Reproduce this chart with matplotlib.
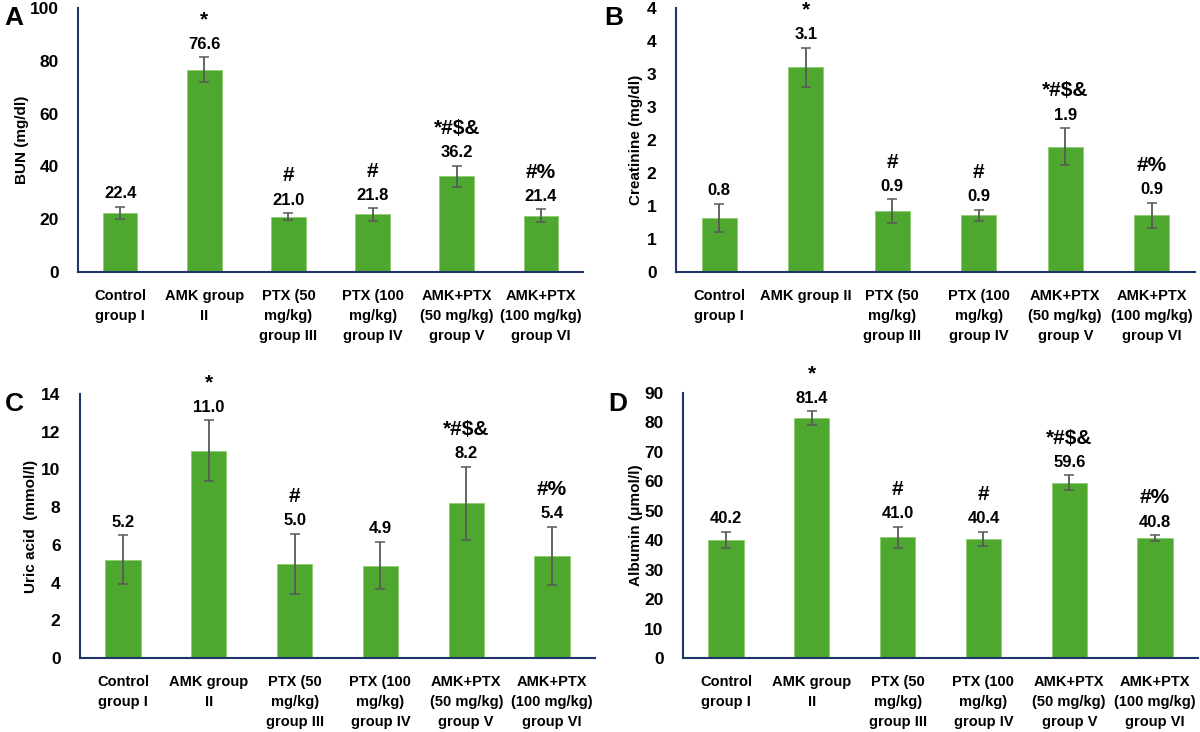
import numpy as np
import pandas as pd
import matplotlib.pyplot as plt
from matplotlib.ticker import FuncFormatter

groups = ['Control\ngroup I', 'AMK group\nII', 'PTX (50\nmg/kg)\ngroup III',
          'PTX (100\nmg/kg)\ngroup IV', 'AMK+PTX\n(50 mg/kg)\ngroup V', 'AMK+PTX\n(100 mg/kg)\ngroup VI']
groups_b = ['Control\ngroup I', 'AMK group II', 'PTX (50\nmg/kg)\ngroup III',
            'PTX (100\nmg/kg)\ngroup IV', 'AMK+PTX\n(50 mg/kg)\ngroup V', 'AMK+PTX\n(100 mg/kg)\ngroup VI']

bun = [22.4, 76.6, 21.0, 21.8, 36.2, 21.4]
bun_err = [2.4, 4.7, 1.3, 2.3, 4.0, 2.3]
bun_sig = ['', '*', '#', '#', '*#$&', '#%']

creat = [0.82, 3.1, 0.92, 0.86, 1.9, 0.86]
creat_lbl = [0.8, 3.1, 0.9, 0.9, 1.9, 0.9]
creat_err = [0.21, 0.3, 0.18, 0.08, 0.28, 0.19]
creat_sig = ['', '*', '#', '#', '*#$&', '#%']

uric = [5.2, 11.0, 5.0, 4.9, 8.2, 5.4]
uric_err = [1.3, 1.6, 1.6, 1.25, 1.95, 1.55]
uric_sig = ['', '*', '#', '', '*#$&', '#%']

alb = [40.2, 81.4, 41.0, 40.4, 59.6, 40.8]
alb_err = [2.7, 2.4, 3.5, 2.4, 2.4, 0.9]
alb_sig = ['', '*', '#', '#', '*#$&', '#%']

green = '#4EA72E'
navy = '#1F3468'
W, H = 1200, 732

fig = plt.figure(figsize=(12, 7.32), dpi=100)
fig.patch.set_facecolor('white')


def panel(box, letter, lpos, ylab, ylx, cats, vals, errs, sigs, ymax, step, labels=None, fmt=None):
    l, r, b, t = box
    ax = fig.add_axes([l / W, 1 - b / H, (r - l) / W, (b - t) / H])
    x = np.arange(len(vals))
    ax.bar(x, vals, width=0.41, color=green, edgecolor='#8FCB6F', linewidth=0.6, zorder=2)
    ax.errorbar(x, vals, yerr=errs, fmt='none', ecolor='#595959', elinewidth=1.3,
                capsize=3.5, capthick=1.1, zorder=3)
    if labels is None:
        labels = vals
    for xi, v, e, lab, s in zip(x, vals, errs, labels, sigs):
        ax.annotate('%.1f' % lab, (xi, v + e), xytext=(0, 4), textcoords='offset points',
                    ha='center', va='bottom', fontsize=12, fontweight='bold', family='Liberation Sans')
        if s:
            ax.annotate(s, (xi, v + e), xytext=(0, 20), textcoords='offset points',
                        ha='center', va='bottom', fontsize=15, fontweight='bold', family='Liberation Sans')
    ax.set_xlim(-0.5, len(vals) - 0.5)
    ax.set_ylim(0, ymax)
    ax.set_yticks(np.arange(0, ymax + step / 2, step))
    if fmt is not None:
        ax.yaxis.set_major_formatter(FuncFormatter(fmt))
    ax.set_xticks(x)
    ax.set_xticklabels(cats, fontsize=10.5, fontweight='bold', family=['Liberation Sans Narrow', 'Liberation Sans'],
                       linespacing=1.55)
    for lb in ax.get_yticklabels():
        lb.set_fontsize(12.5)
        lb.set_fontweight('bold')
        lb.set_family('Liberation Sans')
    ax.tick_params(axis='both', length=0)
    ax.tick_params(axis='x', pad=12)
    ax.tick_params(axis='y', pad=14)
    for sp in ['top', 'right']:
        ax.spines[sp].set_visible(False)
    for sp in ['left', 'bottom']:
        ax.spines[sp].set_color(navy)
        ax.spines[sp].set_linewidth(1.5)
    fig.text(ylx / W, 1 - ((t + b) / 2) / H, ylab, rotation=90, ha='center', va='center',
             fontsize=11, fontweight='bold', family='Liberation Sans')
    fig.text(lpos[0] / W, 1 - lpos[1] / H, letter, ha='center', va='center',
             fontsize=19, fontweight='bold', family='Liberation Sans')
    return ax


panel((78, 583, 272, 8), 'A', (14, 18), 'BUN (mg/dl)', 22, groups, bun, bun_err, bun_sig, 100, 20)
panel((676, 1195, 272, 8), 'B', (614, 18), 'Creatinine (mg/dl)', 636, groups_b, creat, creat_err, creat_sig,
      4, 0.5, labels=creat_lbl, fmt=lambda v, p: '%d' % int(np.floor(v + 0.5)))
panel((80, 595, 658, 394), 'C', (14, 404), 'Uric acid  (mmol/l)', 31, groups, uric, uric_err, uric_sig, 14, 2)
panel((683, 1198, 658, 393), 'D', (618, 404), 'Albumin (\u03bcmol/l)', 636, groups, alb, alb_err, alb_sig, 90, 10)

fig.savefig('out.png', dpi=100)
